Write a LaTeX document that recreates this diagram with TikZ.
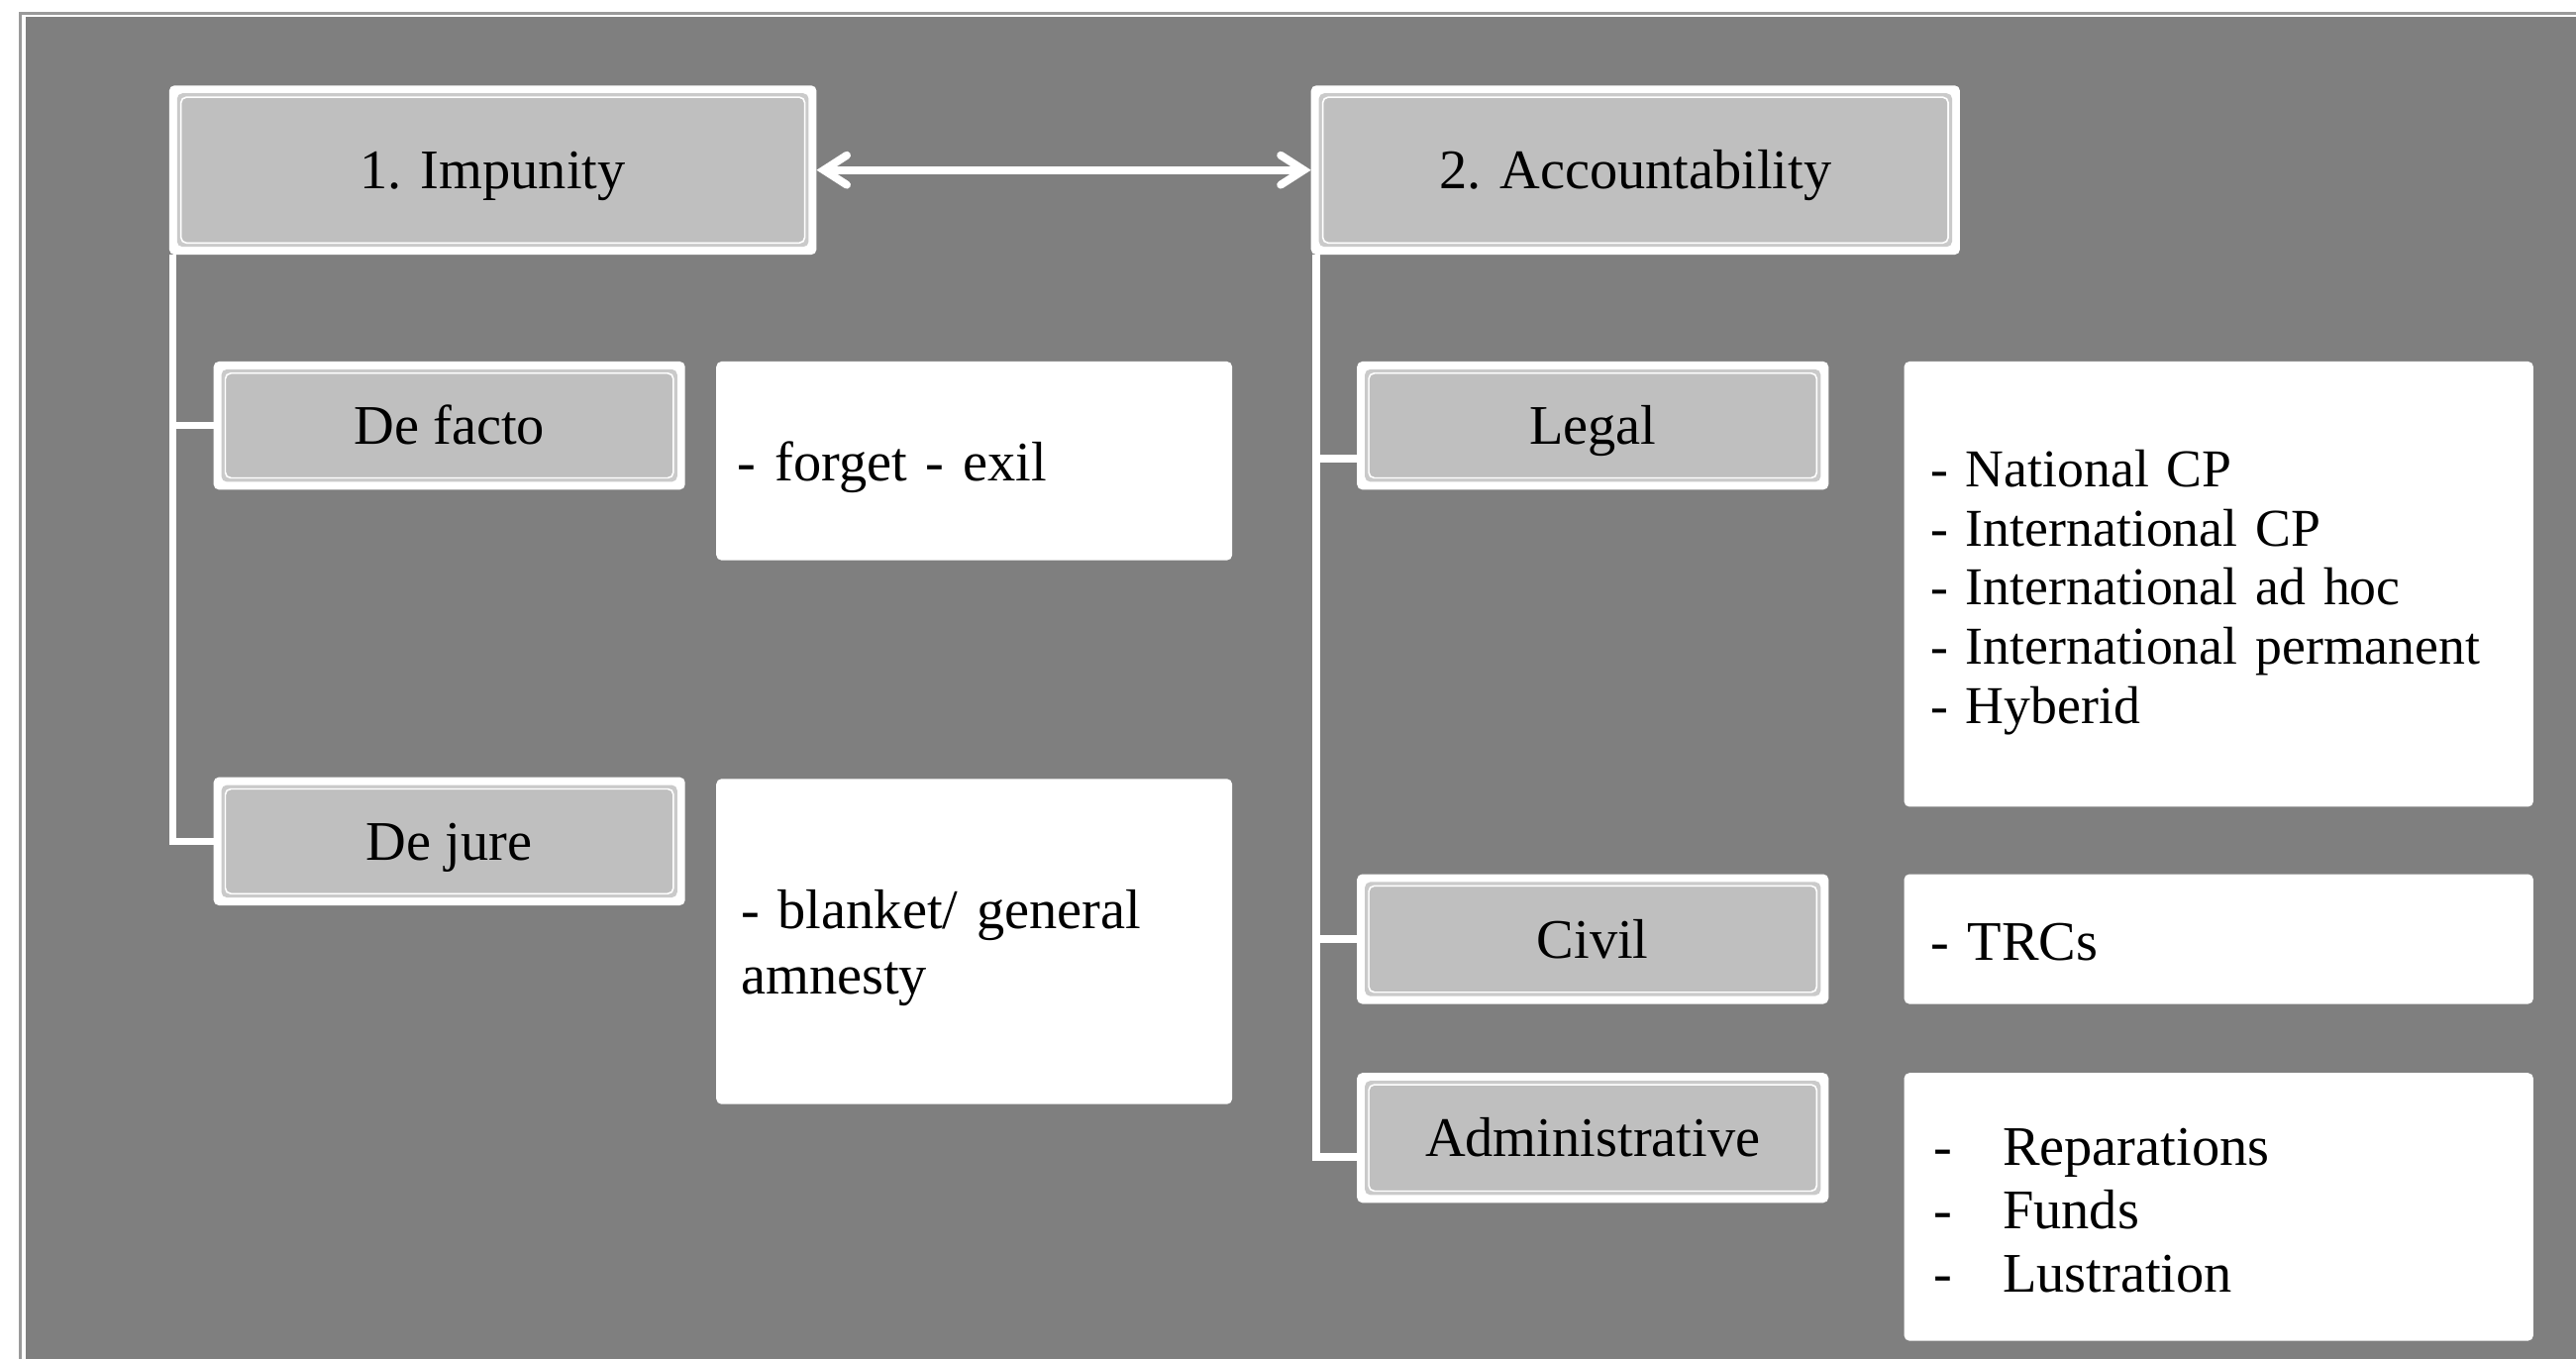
\documentclass[tikz,border=0pt]{standalone}
\usepackage{fontspec}
\setmainfont{Liberation Serif}
\usetikzlibrary{arrows.meta,calc}
\definecolor{bg}{HTML}{7F7F7F}
\definecolor{framec}{HTML}{9A9A9A}
\definecolor{catfill}{HTML}{BFBFBF}
\definecolor{catband}{HTML}{CACACA}
\tikzset{
  catbox/.style={fill=white, rounded corners=1.6pt, inner sep=0pt, outer sep=0pt,
    font=\fontsize{17}{20}\selectfont, align=center, text height=11.5pt, text depth=0pt,
    path picture={
      \fill[catband] ([shift={(2.4pt,-2.4pt)}]path picture bounding box.north west) rectangle ([shift={(-2.4pt,2.4pt)}]path picture bounding box.south east);
      \draw[white, line width=0.5pt] ([shift={(3.6pt,-3.6pt)}]path picture bounding box.north west) rectangle ([shift={(-3.6pt,3.6pt)}]path picture bounding box.south east);
      \fill[catfill] ([shift={(3.85pt,-3.85pt)}]path picture bounding box.north west) rectangle ([shift={(-3.85pt,3.85pt)}]path picture bounding box.south east);
    }},
  txtbox/.style={fill=white, rounded corners=1.6pt, inner ysep=0pt, outer sep=0pt, align=left},
  conn/.style={draw=white, line width=2.3pt},
  dblarrow/.style={draw=white, line width=2.4pt,
    {Straight Barb[length=7pt,width=9pt,line cap=round]}-{Straight Barb[length=7pt,width=9pt,line cap=round]}},
}
\begin{document}
\begin{tikzpicture}[x=0.5pt,y=-0.5pt]
\useasboundingbox (0,0) rectangle (1568,827);
\fill[white] (0,0) rectangle (1568,827);
\fill[bg] (15.7,10.3) rectangle (1568,827);
\draw[framec, line width=1pt] (12.5,827) -- (12.5,8) -- (1568,8);

% top level
\node[catbox, minimum width=197pt, minimum height=51.5pt] (imp) at (300,103.5) {1. Impunity};
\node[catbox, minimum width=197.5pt, minimum height=51.5pt] (acc) at (995.5,103.5) {2. Accountability};
\draw[dblarrow] (imp.east) -- (acc.west);

% left branch
\node[catbox, minimum width=143.5pt, minimum height=39pt] (defacto) at (273.5,259) {De facto};
\node[catbox, minimum width=143.5pt, minimum height=39pt] (dejure) at (273.5,512) {De jure};
\node[txtbox, inner xsep=6.5pt, text width=144pt, minimum height=60.5pt, font=\fontsize{17}{20}\selectfont] (forget) at (593,280.5) {\rule{0pt}{15.6pt}- forget - exil};
\node[txtbox, inner xsep=7.5pt, text width=142pt, minimum height=99pt, font=\fontsize{17}{20}\selectfont] (blanket) at (593,573) {\rule{0pt}{15.7pt}- blanket/ general\\amnesty};

\coordinate (lv) at ([xshift=1.1pt]imp.south west);
\draw[conn] (lv) |- (defacto.west);
\draw[conn] (lv) |- (dejure.west);

% right branch
\node[catbox, minimum width=143.5pt, minimum height=39pt] (legal) at (969.5,259) {Legal};
\node[catbox, minimum width=143.5pt, minimum height=39.5pt] (civil) at (969.5,571.5) {Civil};
\node[catbox, minimum width=143.5pt, minimum height=39.5pt] (admin) at (969.5,692.5) {Administrative};

\node[txtbox, inner xsep=8pt, text width=175.5pt, minimum height=135.5pt, font=\fontsize{16.2}{18}\selectfont] (legallist) at (1350.5,355.5)
  {\rule{0pt}{16.2pt}- National CP\\- International CP\\- International ad hoc\\- International permanent\\- Hyberid};
\node[txtbox, inner xsep=8pt, text width=175.5pt, minimum height=39.5pt, font=\fontsize{17}{20}\selectfont] (trcs) at (1350.5,571.5) {\rule{0pt}{13.2pt}- TRCs};
\node[txtbox, inner xsep=9pt, text width=173.5pt, minimum height=81.5pt, font=\fontsize{17}{19.3}\selectfont] (repar) at (1350.5,734.5)
  {\rule{0pt}{13.3pt}\makebox[21pt][l]{-}Reparations\\\makebox[21pt][l]{-}Funds\\\makebox[21pt][l]{-}Lustration};

\coordinate (rv) at ([xshift=1.5pt]acc.south west);
\draw[conn] (rv) |- ([yshift=-10pt]legal.west);
\draw[conn] (rv) |- (civil.west);
\draw[conn] (rv) |- ([yshift=-5.75pt]admin.west);
\end{tikzpicture}
\end{document}
